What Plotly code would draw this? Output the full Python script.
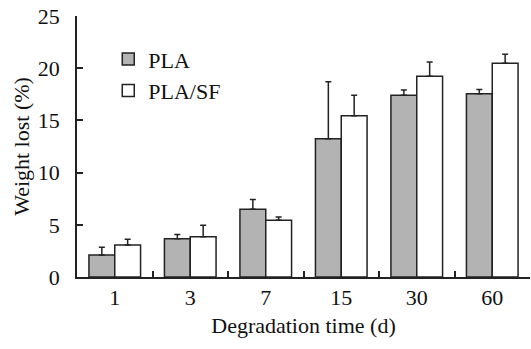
import plotly.graph_objects as go

categories = ["1", "3", "7", "15", "30", "60"]
pla = [2.1, 3.67, 6.48, 13.25, 17.4, 17.55]
pla_err = [0.75, 0.4, 0.95, 5.45, 0.5, 0.4]
plasf = [3.07, 3.86, 5.43, 15.45, 19.22, 20.47]
plasf_err = [0.55, 1.1, 0.32, 1.95, 1.37, 0.86]
yticks = [0, 5, 10, 15, 20, 25]

FONT = "Liberation Serif"
edge = "#222222"

fig = go.Figure()
fig.add_trace(go.Bar(
    x=categories, y=pla, name="PLA",
    marker=dict(color="#b3b3b3", line=dict(color=edge, width=1.5)),
    error_y=dict(type="data", array=pla_err, arrayminus=[0]*len(pla_err), symmetric=False,
                 color=edge, thickness=1.5, width=3),
))
fig.add_trace(go.Bar(
    x=categories, y=plasf, name="PLA/SF",
    marker=dict(color="#ffffff", line=dict(color=edge, width=1.5)),
    error_y=dict(type="data", array=plasf_err, arrayminus=[0]*len(plasf_err), symmetric=False,
                 color=edge, thickness=1.5, width=3),
))

fig.update_layout(
    width=531, height=349,
    margin=dict(l=77, r=1, t=16, b=72, autoexpand=False),
    paper_bgcolor="white", plot_bgcolor="white",
    barmode="group", bargap=0.316, bargroupgap=0,
    font=dict(family=FONT, size=22, color="#111111"),
    showlegend=True,
    legend=dict(x=0.069, y=0.915, xanchor="left", yanchor="top",
                bgcolor="rgba(0,0,0,0)", font=dict(size=22), tracegroupgap=0),
    xaxis=dict(
        type="category", range=[-0.5, 5.5], automargin=False,
        showline=True, linecolor=edge, linewidth=1.5,
        ticks="inside", tickson="boundaries", ticklen=6, tickcolor=edge, tickwidth=1.5,
        showgrid=False, zeroline=False,
        title=dict(text="Degradation time (d)", standoff=8, font=dict(size=22)),
        tickfont=dict(size=22),
    ),
    yaxis=dict(
        range=[0, 25], tickvals=yticks, automargin=False,
        showline=True, linecolor=edge, linewidth=1.5,
        ticks="inside", ticklen=6, tickcolor=edge, tickwidth=1.5,
        showgrid=False, zeroline=False,
        title=dict(text="Weight lost (%)", standoff=2, font=dict(size=22)),
        tickfont=dict(size=22), ticklabelstandoff=11,
    ),
)

fig.write_html("out.html",
               config={"displayModeBar": False},
               post_script="document.body.style.margin='0';document.body.style.overflow='hidden';")
